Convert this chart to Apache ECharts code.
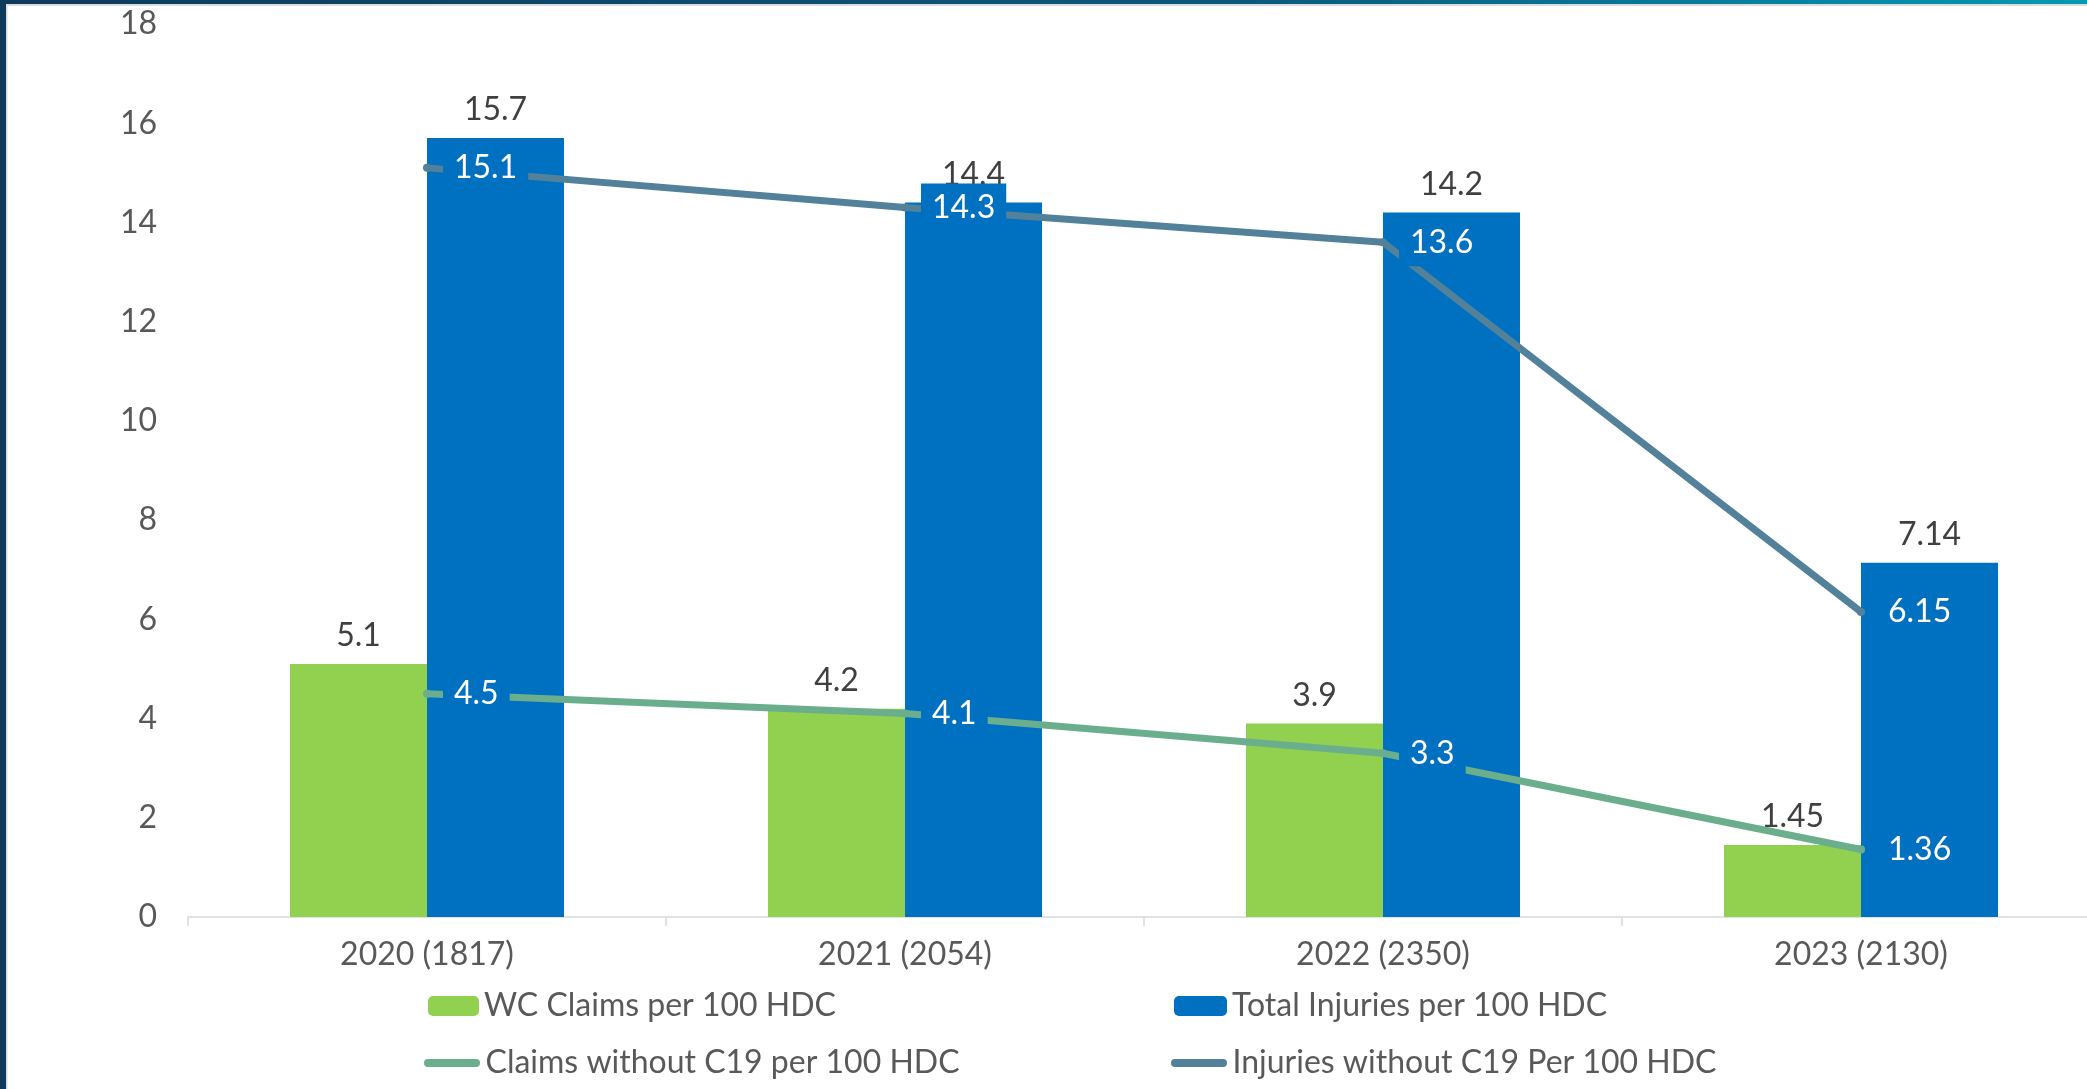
<!DOCTYPE html>
<html>
<head>
<meta charset="utf-8">
<script src="https://cdn.jsdelivr.net/npm/echarts@6/dist/echarts.min.js"></script>
<style>
html,body{margin:0;padding:0;background:#fff;overflow:hidden;}
#c{width:2100px;height:1089px;}
</style>
</head>
<body>
<div id="c"></div>
<script>
const categories = ['2020 (1817)', '2021 (2054)', '2022 (2350)', '2023 (2130)'];
const wcClaims = [5.1, 4.2, 3.9, 1.45];
const totalInjuries = [15.7, 14.4, 14.2, 7.14];
const claimsNoC19 = [4.5, 4.1, 3.3, 1.36];
const injuriesNoC19 = [15.1, 14.3, 13.6, 6.15];
const yTicks = { min: 0, max: 18, interval: 2 };

const FONT = 'Lato';
const FS = 32;
const GREY = '#595959';
const GREEN = '#92D050';
const BLUE = '#0070C0';
const CLAIMLINE = '#6AAE8E';
const INJLINE = '#528199';

const chart = echarts.init(document.getElementById('c'));

const lineLabel = {
  show: true,
  position: 'right',
  distance: 12,
  color: '#ffffff',
  fontFamily: FONT,
  fontSize: FS,
  backgroundColor: BLUE,
  padding: [8, 11, 8, 11]
};
const barLabel = {
  show: true,
  position: 'top',
  distance: 12,
  color: '#404040',
  fontFamily: FONT,
  fontSize: FS
};
const linePath = 'path://M4,0 H52 A4,4 0 0 1 52,8 H4 A4,4 0 0 1 4,0 Z';
const legendText = { color: GREY, fontFamily: FONT, fontSize: FS, lineHeight: 32 };

chart.setOption({
  animation: false,
  backgroundColor: '#ffffff',
  textStyle: { fontFamily: FONT },
  graphic: [
    { type: 'rect', left: 0, top: 0, shape: { width: 6, height: 1089 }, style: { fill: '#0E3A5A' }, z: 100 },
    { type: 'rect', left: 6, top: 0, shape: { width: 1.5, height: 1089 }, style: { fill: '#D9D9D9' }, z: 100 },
    { type: 'rect', left: 0, top: 0, shape: { width: 2087, height: 4 },
      style: { fill: new echarts.graphic.LinearGradient(0, 0, 1, 0, [
        { offset: 0, color: '#0E3A5A' }, { offset: 0.6, color: '#0A5A7C' }, { offset: 1, color: '#0599B4' }]) }, z: 101 },
    { type: 'rect', left: 6, top: 4, shape: { width: 2081, height: 2 }, style: { fill: '#DCDCDC' }, z: 100 }
  ],
  grid: { left: 188, top: 24, right: 0, bottom: 172, containLabel: false },
  legend: [
    { data: [{ name: 'WC Claims per 100 HDC' }], left: 423, top: 985, itemWidth: 51, itemHeight: 20,
      textStyle: legendText, selectedMode: false },
    { data: [{ name: 'Claims without C19 per 100 HDC', icon: linePath }], left: 419, top: 1042, itemWidth: 57, itemHeight: 8,
      textStyle: legendText, selectedMode: false, itemStyle: { color: CLAIMLINE } },
    { data: [{ name: 'Total Injuries per 100 HDC' }], left: 1169, top: 985, itemWidth: 53, itemHeight: 20,
      textStyle: legendText, selectedMode: false },
    { data: [{ name: 'Injuries without C19 Per 100 HDC', icon: linePath }], left: 1166, top: 1042, itemWidth: 57, itemHeight: 8,
      textStyle: legendText, selectedMode: false, itemStyle: { color: INJLINE } }
  ],
  xAxis: {
    type: 'category',
    data: categories,
    axisLine: { lineStyle: { color: '#D9D9D9', width: 1.5 } },
    axisTick: { show: true, length: 9, lineStyle: { color: '#D9D9D9', width: 1.5 } },
    axisLabel: { color: GREY, fontFamily: FONT, fontSize: FS, margin: 22 }
  },
  yAxis: {
    type: 'value',
    min: yTicks.min, max: yTicks.max, interval: yTicks.interval,
    axisLine: { show: false },
    axisTick: { show: false },
    splitLine: { show: false },
    axisLabel: { color: GREY, fontFamily: FONT, fontSize: FS, margin: 31 }
  },
  series: [
    { name: 'WC Claims per 100 HDC', type: 'bar', data: wcClaims, barWidth: 137, barGap: '0%',
      itemStyle: { color: GREEN }, label: barLabel, z: 2 },
    { name: 'Total Injuries per 100 HDC', type: 'bar', data: totalInjuries, barWidth: 137, barGap: '0%',
      itemStyle: { color: BLUE }, label: barLabel, z: 2 },
    { name: 'Claims without C19 per 100 HDC', type: 'line', data: claimsNoC19,
      symbol: 'circle', symbolSize: 8, showSymbol: true,
      lineStyle: { color: CLAIMLINE, width: 7, cap: 'round' }, itemStyle: { color: CLAIMLINE },
      label: lineLabel, z: 5 },
    { name: 'Injuries without C19 Per 100 HDC', type: 'line', data: injuriesNoC19,
      symbol: 'circle', symbolSize: 8, showSymbol: true,
      lineStyle: { color: INJLINE, width: 7, cap: 'round' }, itemStyle: { color: INJLINE },
      label: lineLabel, z: 5 }
  ]
});
</script>
</body>
</html>
